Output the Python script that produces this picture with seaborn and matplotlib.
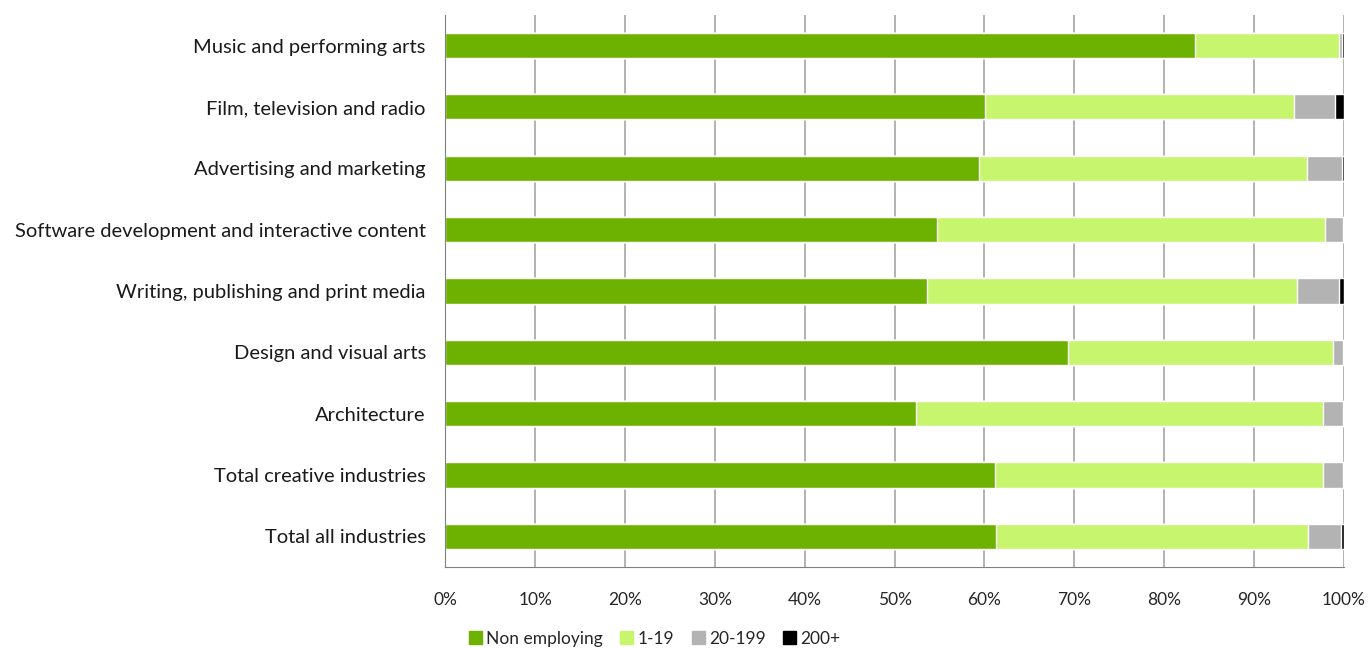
import numpy as np
import pandas as pd
import matplotlib.pyplot as plt
import seaborn as sns
from matplotlib.patches import Patch

# business size shares (% of businesses) by creative segment
categories = ["Music and performing arts", "Film, television and radio",
              "Advertising and marketing", "Software development and interactive content",
              "Writing, publishing and print media", "Design and visual arts",
              "Architecture", "Total creative industries", "Total all industries"]
non_employing = [83.4, 60.1, 59.4, 54.7, 53.6, 69.3, 52.4, 61.2, 61.3]
emp_1_19 = [16.0, 34.3, 36.5, 43.2, 41.2, 29.5, 45.3, 36.5, 34.7]
emp_20_199 = [0.4, 4.6, 3.9, 2.0, 4.6, 1.1, 2.2, 2.2, 3.7]
emp_200_plus = [0.2, 1.0, 0.2, 0.1, 0.6, 0.1, 0.1, 0.1, 0.3]

series_names = ["Non employing", "1-19", "20-199", "200+"]
colors = ["#6db200", "#c8f56e", "#b3b3b3", "#000000"]

df = pd.DataFrame({"category": categories,
                   "Non employing": non_employing, "1-19": emp_1_19,
                   "20-199": emp_20_199, "200+": emp_200_plus})

sns.set_style("white")
plt.rcParams["font.family"] = ["Lato", "DejaVu Sans"]

fig = plt.figure(figsize=(13.7, 6.48), dpi=100)
ax = fig.add_axes([0.325, 0.125, 0.656, 0.852])

# stacked bars: draw cumulative totals, widest first
cum = df[series_names].cumsum(axis=1)
for name, col in reversed(list(zip(series_names, colors))):
    sns.barplot(x=cum[name], y=df["category"], color=col, width=0.41,
                orient="h", ax=ax, zorder=2, saturation=1)

ax.set_xlim(0, 100)
ax.set_ylim(len(categories) - 0.5, -0.5)
ax.set_xticks(np.arange(0, 101, 10))
ax.set_xticklabels([f"{v}%" for v in range(0, 101, 10)], fontsize=12.5)
ax.tick_params(axis="y", labelsize=14.5, length=0, pad=14, labelcolor="#1a1a1a")
ax.set_yticks(np.arange(-0.5, len(categories)), minor=True)
ax.tick_params(axis="y", which="minor", length=5, color="#808080", direction="out")
ax.tick_params(axis="x", length=5, color="#808080", direction="out", pad=13)
ax.set_xlabel("")
ax.set_ylabel("")
ax.xaxis.grid(True, color="#a6a6a6", linewidth=1.2, zorder=0)
ax.set_axisbelow(True)
for side in ["top", "right"]:
    ax.spines[side].set_visible(False)
for side in ["left", "bottom"]:
    ax.spines[side].set_color("#808080")

handles = [Patch(color=c, label=n) for n, c in zip(series_names, colors)]
fig.legend(handles=handles, loc="lower center", bbox_to_anchor=(0.478, -0.022),
           ncol=4, frameon=False, fontsize=12.5, handlelength=0.75, handleheight=0.75,
           handletextpad=0.25, columnspacing=1.0)

fig.savefig("out.png", dpi=100)
